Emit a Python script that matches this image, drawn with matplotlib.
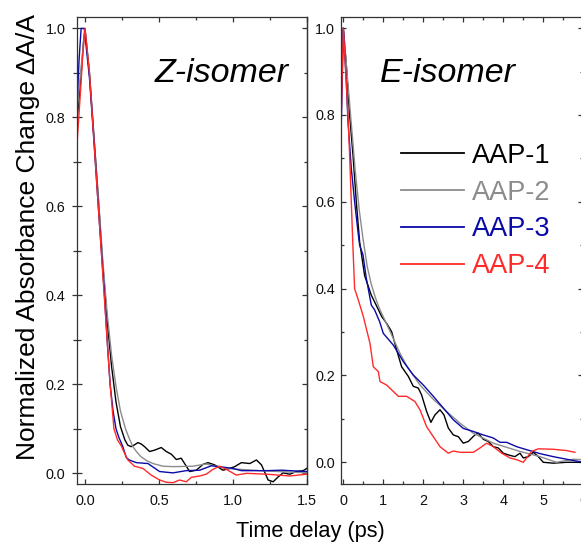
import matplotlib
matplotlib.use("Agg")
import matplotlib.pyplot as plt
from matplotlib.ticker import MultipleLocator

plt.rcParams['font.family'] = ['Liberation Sans', 'DejaVu Sans']

labels = ['AAP-1', 'AAP-2', 'AAP-3', 'AAP-4']
colors = ['#000000', '#8c8c8c', '#0a0aa8', '#ff2a2a']

# Z-isomer (left panel)
z_black_t = [-0.052, -0.03, -0.01, 0.0, 0.03, 0.06, 0.09, 0.12, 0.15, 0.18, 0.21, 0.24, 0.27, 0.29,
             0.313, 0.335, 0.358, 0.38, 0.403, 0.437, 0.47, 0.516, 0.55, 0.584, 0.618, 0.651, 0.674, 0.708,
             0.753, 0.798, 0.832, 0.877, 0.933, 0.979, 1.013, 1.058, 1.115, 1.16, 1.194, 1.239, 1.273, 1.307,
             1.34, 1.385, 1.43, 1.476, 1.5]
z_black = [0.80, 0.88, 0.97, 1.0, 0.90, 0.76, 0.62, 0.47, 0.345, 0.24, 0.16, 0.105, 0.075, 0.063,
           0.06, 0.064, 0.069, 0.066, 0.06, 0.049, 0.052, 0.058, 0.049, 0.043, 0.031, 0.034, 0.022, 0.004,
           0.007, 0.020, 0.024, 0.019, 0.007, 0.011, 0.015, 0.024, 0.022, 0.030, 0.019, -0.015, -0.019, -0.008,
           0.001, -0.002, 0.004, 0.006, 0.011]

z_gray_t = [-0.052, -0.03, 0.0, 0.03, 0.06, 0.09, 0.12, 0.15, 0.18, 0.21, 0.24, 0.274, 0.3, 0.324,
            0.35, 0.38, 0.42, 0.46, 0.527, 0.6, 0.73, 0.82, 0.9, 0.956, 1.18, 1.5]
z_gray = [0.82, 0.90, 1.0, 0.90, 0.76, 0.62, 0.48, 0.36, 0.265, 0.195, 0.14, 0.10, 0.078, 0.06,
          0.048, 0.037, 0.028, 0.022, 0.016, 0.015, 0.016, 0.021, 0.015, 0.011, 0.006, 0.001]

z_blue_t = [-0.052, -0.04, -0.026, -0.005, 0.03, 0.06, 0.09, 0.13, 0.15, 0.17, 0.19, 0.21, 0.23, 0.256,
            0.28, 0.3, 0.347, 0.426, 0.505, 0.595, 0.685, 0.776, 0.855, 0.911, 1.0, 1.058, 1.227, 1.33, 1.5]
z_blue = [0.84, 0.93, 1.0, 1.0, 0.89, 0.75, 0.60, 0.41, 0.30, 0.20, 0.14, 0.10, 0.08, 0.06,
          0.035, 0.03, 0.024, 0.022, 0.004, 0.001, 0.006, 0.007, 0.017, 0.015, 0.011, 0.006, 0.006, 0.007, 0.004]

z_red_t = [-0.052, -0.03, -0.015, 0.0, 0.03, 0.06, 0.09, 0.12, 0.15, 0.17, 0.196, 0.22, 0.245, 0.268,
           0.29, 0.335, 0.392, 0.448, 0.505, 0.55, 0.595, 0.64, 0.685, 0.72, 0.776, 0.82, 0.866, 0.911,
           0.956, 1.024, 1.092, 1.23, 1.385, 1.5]
z_red = [0.75, 0.86, 0.94, 1.0, 0.90, 0.75, 0.60, 0.45, 0.30, 0.20, 0.10, 0.075, 0.062, 0.045,
         0.03, 0.016, 0.011, -0.004, -0.015, -0.02, -0.021, -0.015, -0.019, -0.009, -0.006, -0.002, 0.009, 0.016,
         0.009, -0.004, 0.0, -0.002, -0.006, -0.002]

# E-isomer (right panel)
e_black_t = [-0.05, 0.0, 0.075, 0.158, 0.242, 0.325, 0.408, 0.533, 0.7, 0.833,
             0.958, 1.083, 1.208, 1.333, 1.458, 1.625, 1.75, 1.875, 1.958, 2.083,
             2.19, 2.29, 2.417, 2.517, 2.625, 2.75, 2.875, 3.0, 3.125, 3.29,
             3.375, 3.5, 3.625, 3.75, 3.875, 4.0, 4.125, 4.29, 4.417, 4.5,
             4.625, 4.75, 4.875, 5.0, 5.25, 5.583, 6.0]
e_black = [0.85, 1.0, 0.915, 0.80, 0.708, 0.60, 0.508, 0.43, 0.385, 0.36,
           0.336, 0.32, 0.301, 0.259, 0.22, 0.198, 0.175, 0.171, 0.155, 0.117,
           0.092, 0.109, 0.121, 0.109, 0.079, 0.063, 0.059, 0.044, 0.048, 0.063,
           0.067, 0.053, 0.048, 0.036, 0.033, 0.021, 0.017, 0.013, 0.021, 0.01,
           0.013, 0.023, 0.013, 0.0, -0.002, 0.0, 0.0]

e_gray_t = [-0.05, 0.0, 0.1, 0.2, 0.3, 0.4, 0.5, 0.6, 0.7, 0.8,
            0.9, 1.0, 1.1, 1.25, 1.417, 1.6, 1.917, 2.25, 2.583, 2.917,
            3.25, 3.75, 4.417, 4.917, 5.33, 5.75, 6.0]
e_gray = [0.85, 1.0, 0.89, 0.78, 0.67, 0.58, 0.51, 0.45, 0.41, 0.38,
          0.355, 0.335, 0.315, 0.285, 0.251, 0.22, 0.178, 0.145, 0.117, 0.09,
          0.067, 0.044, 0.025, 0.013, 0.0, 0.007, 0.006]

e_blue_t = [-0.05, 0.0, 0.075, 0.117, 0.2, 0.283, 0.367, 0.408, 0.492, 0.575,
            0.7, 0.783, 0.908, 1.0, 1.25, 1.5, 1.75, 2.0, 2.25, 2.5,
            2.75, 3.0, 3.25, 3.5, 3.75, 3.917, 4.083, 4.333, 4.583, 4.917,
            5.25, 5.583, 6.0]
e_blue = [0.78, 1.0, 0.876, 0.785, 0.677, 0.60, 0.531, 0.50, 0.478, 0.424,
          0.362, 0.351, 0.324, 0.297, 0.27, 0.232, 0.201, 0.178, 0.152, 0.125,
          0.098, 0.078, 0.071, 0.063, 0.056, 0.046, 0.046, 0.036, 0.029, 0.02,
          0.013, 0.007, 0.0]

e_red_t = [-0.05, 0.0, 0.075, 0.117, 0.158, 0.2, 0.242, 0.283, 0.375, 0.5,
           0.667, 0.75, 0.875, 0.917, 1.083, 1.208, 1.375, 1.583, 1.79, 1.917,
           2.083, 2.25, 2.417, 2.625, 2.75, 2.917, 3.25, 3.417, 3.583, 3.75,
           3.958, 4.167, 4.333, 4.5, 4.583, 4.708, 4.875, 5.25, 5.583, 5.79]
e_red = [0.80, 1.0, 0.876, 0.80, 0.708, 0.60, 0.493, 0.40, 0.374, 0.336,
         0.274, 0.22, 0.209, 0.186, 0.178, 0.167, 0.152, 0.152, 0.14, 0.121,
         0.082, 0.059, 0.036, 0.021, 0.026, 0.023, 0.023, 0.033, 0.044, 0.036,
         0.021, 0.01, 0.006, 0.0, 0.01, 0.025, 0.031, 0.03, 0.027, 0.023]

W, H = 581, 545
fig = plt.figure(figsize=(W / 100, H / 100), dpi=100)
ax1 = fig.add_axes([77.3 / W, (H - 484) / H, (306.7 - 77.3) / W, (484 - 17.3) / H])
ax2 = fig.add_axes([340.7 / W, (H - 484) / H, (583.3 - 340.7) / W, (484 - 17.3) / H])

z_series = [(z_black_t, z_black), (z_gray_t, z_gray), (z_blue_t, z_blue), (z_red_t, z_red)]
e_series = [(e_black_t, e_black), (e_gray_t, e_gray), (e_blue_t, e_blue), (e_red_t, e_red)]

for (t, y), c in zip(z_series, colors):
    ax1.plot(t, y, color=c, lw=1.0)
for (t, y), c, lab in zip(e_series, colors, labels):
    ax2.plot(t, y, color=c, lw=1.0, label=lab)

ax1.set_xlim(-0.052, 1.5)
ax1.set_ylim(-0.024, 1.025)
ax2.set_xlim(-0.065, 6.0)
ax2.set_ylim(-0.05, 1.025)

spine_col = '#333333'
for ax in (ax1, ax2):
    for s in ax.spines.values():
        s.set_color(spine_col)
        s.set_linewidth(0.9)
    ax.yaxis.set_major_locator(MultipleLocator(0.2))
    ax.yaxis.set_minor_locator(MultipleLocator(0.1))
    ax.tick_params(which='both', colors=spine_col, labelcolor='#111111', labelsize=10.4, width=0.9)
    ax.tick_params(axis='x', which='both', direction='in', top=True, pad=7.2)
    ax.tick_params(axis='x', which='major', length=3.5)
    ax.tick_params(axis='x', which='minor', length=2.5)
    ax.tick_params(axis='y', which='both', right=True)

ax1.xaxis.set_major_locator(MultipleLocator(0.5))
ax1.xaxis.set_minor_locator(MultipleLocator(0.25))
ax1.set_xticks([0.0, 0.5, 1.0, 1.5])
ax1.set_xticklabels(['0.0', '0.5', '1.0', '1.5'])
ax1.tick_params(axis='y', which='major', direction='inout', length=6.5, pad=5.4)
ax1.tick_params(axis='y', which='minor', direction='inout', length=5.5)
ax1.tick_params(axis='y', which='both', right=False)
ax1r = ax1.secondary_yaxis('right')
ax1r.yaxis.set_major_locator(MultipleLocator(0.2))
ax1r.yaxis.set_minor_locator(MultipleLocator(0.1))
ax1r.tick_params(which='both', direction='in', colors=spine_col, labelright=False, width=0.9)
ax1r.tick_params(which='major', length=3.5)
ax1r.tick_params(which='minor', length=2.5)
ax1r.spines['right'].set_color(spine_col)
ax1r.spines['right'].set_linewidth(0.9)

ax2.xaxis.set_major_locator(MultipleLocator(1))
ax2.xaxis.set_minor_locator(MultipleLocator(0.5))
ax2.tick_params(axis='y', which='both', direction='in', pad=4.1)
ax2.tick_params(axis='y', which='major', length=3.5)
ax2.tick_params(axis='y', which='minor', length=2.5)

ax1.text(0.474, 0.88, 'Z-isomer', fontsize=24.5, style='italic', ha='left', va='baseline')
ax2.text(0.92, 0.876, 'E-isomer', fontsize=24.5, style='italic', ha='left', va='baseline')

leg = ax2.legend(loc='upper left', bbox_to_anchor=(400.7 / W, (H - 142.8) / H),
                 bbox_transform=fig.transFigure, frameon=False, fontsize=19.5,
                 handlelength=2.34, handletextpad=0.28, labelspacing=0.4,
                 borderpad=0, borderaxespad=0, labelcolor='linecolor')
for h in leg.get_lines():
    h.set_linewidth(1.3)

fig.text(310 / W, (H - 531.7) / H, 'Time delay (ps)', fontsize=15.7, ha='center', va='center')
fig.text(27.8 / W, (H - 237.3) / H, 'Normalized Absorbance Change \u0394A/A', fontsize=19,
         rotation=90, ha='center', va='center')

fig.savefig('out.png', dpi=100)
